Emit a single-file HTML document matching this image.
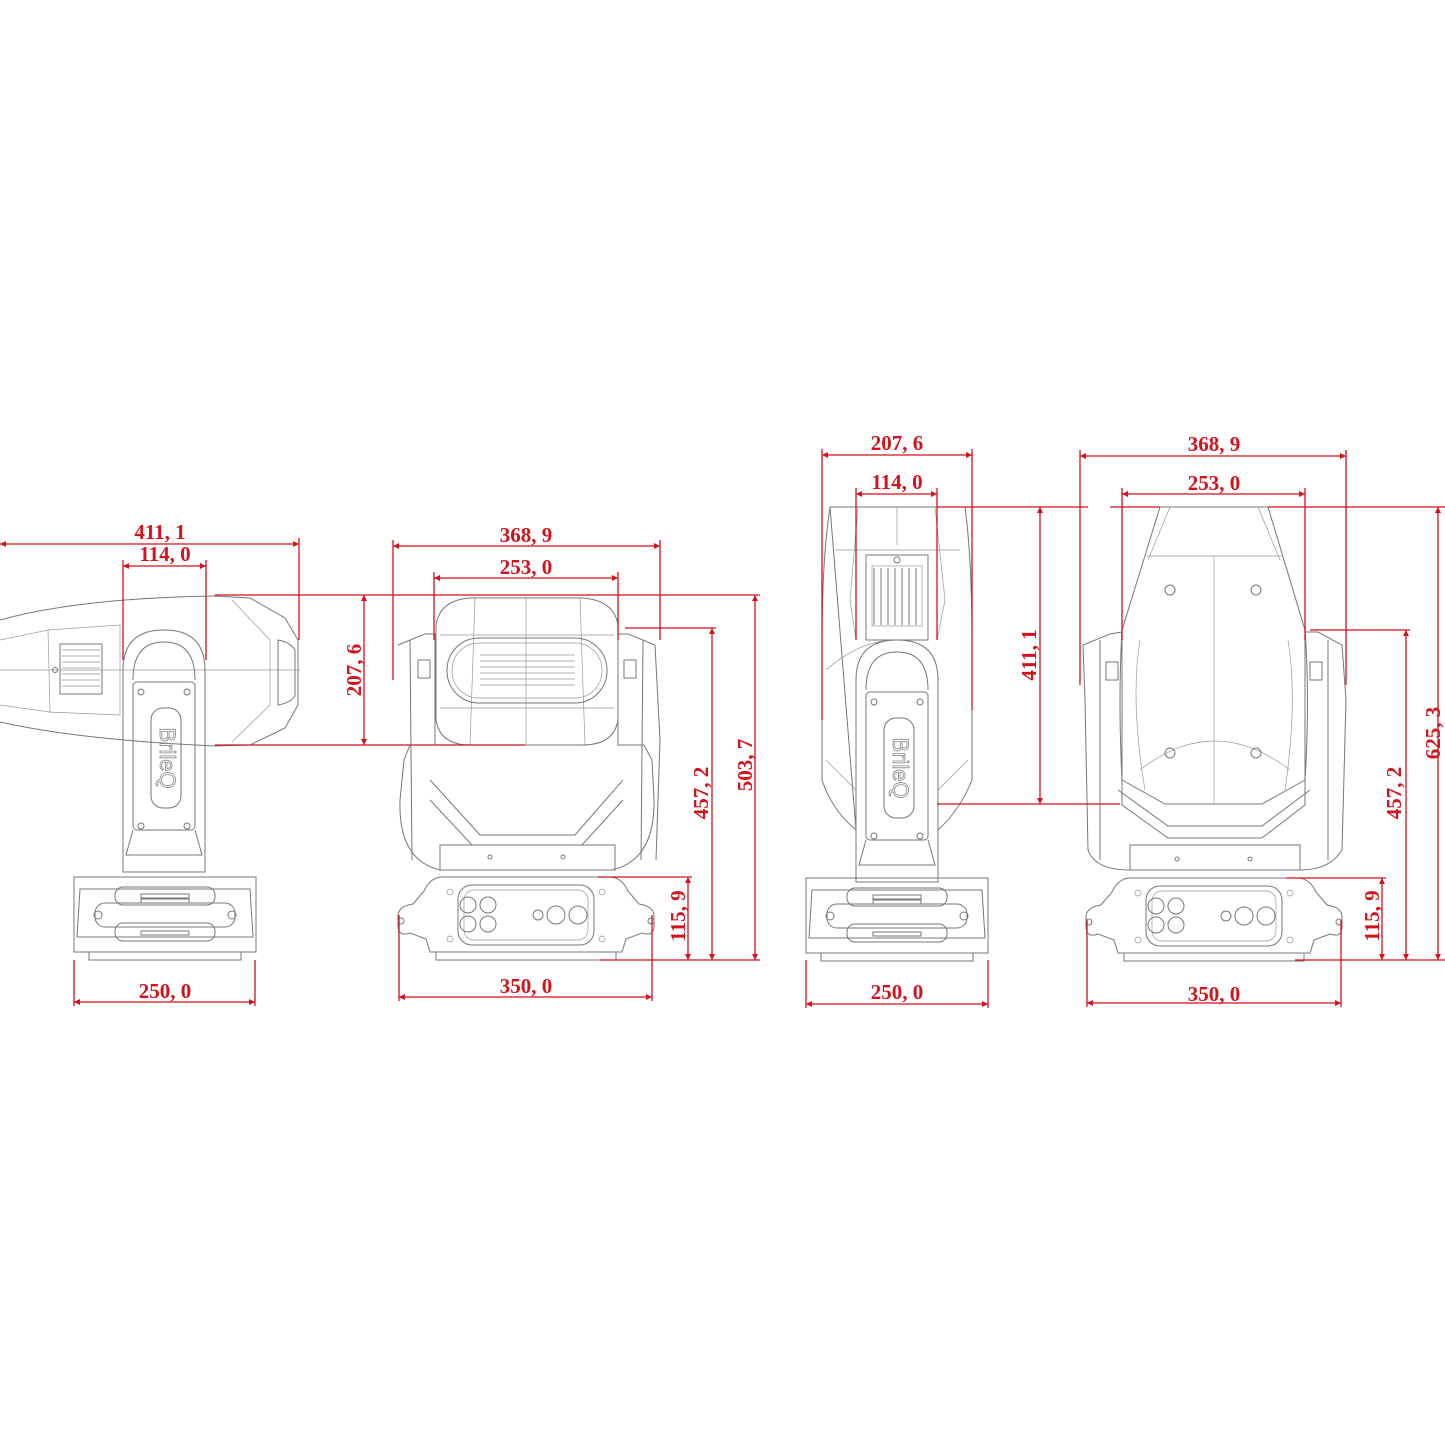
<!DOCTYPE html>
<html><head><meta charset="utf-8"><style>
html,body{margin:0;padding:0;background:#fff}
svg{display:block}
.g{fill:none;stroke:#777;stroke-width:1}
.gt{fill:none;stroke:#999;stroke-width:0.7}
.r{fill:none;stroke:#d4121c;stroke-width:1.3}
.t{font-family:"Liberation Serif",serif;font-weight:bold;font-size:21px;fill:#d4121c;text-anchor:middle}
</style></head><body>
<svg width="1445" height="1445" viewBox="0 0 1445 1445" xmlns="http://www.w3.org/2000/svg">
<defs>
<marker id="a" viewBox="0 0 10 10" refX="10" refY="5" markerWidth="10" markerHeight="6" orient="auto-start-reverse" markerUnits="userSpaceOnUse"><path d="M0,0 L10,5 L0,10z" fill="#d4121c"/></marker>
<!-- front base, centered at 0, top at 0 -->
<g id="bf">
<path class="g" d="M-85,0 L85,0 Q96,1 102,14 L113,27 Q127,29 128,38 L128,50 Q127,60 116,56 L100,62 L96,75 L-96,75 L-100,62 L-116,56 Q-127,60 -128,50 L-128,38 Q-127,29 -113,27 L-102,14 Q-96,1 -85,0Z"/>
<rect class="g" x="-68" y="8" width="136" height="60" rx="14"/>
<rect class="gt" x="-62" y="13" width="124" height="50" rx="10"/>
<path class="g" d="M-90,75 L-90,83 L90,83 L90,75"/>
<circle class="g" cx="-125" cy="44" r="3"/><circle class="g" cx="125" cy="44" r="3"/>
<circle class="g" cx="-58" cy="28" r="8"/><circle class="g" cx="-38" cy="28" r="8"/>
<circle class="g" cx="-58" cy="47" r="8"/><circle class="g" cx="-38" cy="47" r="8"/>
<circle class="g" cx="12" cy="38" r="5"/><circle class="g" cx="30" cy="38" r="9"/><circle class="g" cx="52" cy="38" r="9"/>
<circle class="gt" cx="-76" cy="15" r="3"/><circle class="gt" cx="76" cy="15" r="3"/><circle class="gt" cx="-76" cy="62" r="3"/><circle class="gt" cx="76" cy="62" r="3"/>
</g>
<!-- side base -->
<g id="bs">
<rect class="g" x="-91" y="0" width="182" height="75"/>
<path class="g" d="M-85,12 L85,12 L88,60 L-88,60Z"/>
<rect class="g" x="-50" y="10" width="100" height="18" rx="8"/>
<rect class="g" x="-50" y="46" width="100" height="18" rx="8"/>
<rect class="g" x="-70" y="26" width="140" height="24" rx="10"/>
<rect class="g" x="-24" y="17" width="48" height="4"/><rect class="g" x="-24" y="22" width="48" height="4"/><rect class="g" x="-24" y="54" width="48" height="4"/>
<circle class="g" cx="-67" cy="38" r="4"/><circle class="g" cx="67" cy="38" r="4"/>
<path class="g" d="M-76,75 L-76,83 L76,83 L76,75"/>
</g>
<!-- arm (side view), origin top-left -->
<g id="arm">
<path class="g" d="M0,242 L0,40 Q0,0 41,0 Q82,0 82,40 L82,242Z"/>
<path class="g" d="M10,50 Q10,12 41,12 Q72,12 72,50"/>
<rect class="g" x="10" y="52" width="62" height="148" rx="4"/>
<rect class="g" x="28" y="78" width="30" height="100" rx="12"/>
<text x="43" y="128" transform="rotate(90 43 128)" font-family="Liberation Sans,sans-serif" font-size="22" fill="none" stroke="#888" stroke-width="0.8" text-anchor="middle" dominant-baseline="middle">BrileQ</text>
<circle class="g" cx="18" cy="62" r="3"/><circle class="g" cx="64" cy="62" r="3"/><circle class="g" cx="18" cy="196" r="3"/><circle class="g" cx="64" cy="196" r="3"/>
<path class="g" d="M10,200 L3,225 L79,225 L72,200"/>
</g>
</defs>

<!-- ============ VIEW 1 ============ -->
<path class="g" d="M0,620 Q80,598 215,596 L250,598 L285,618 L298,640 L298,705 L285,728 L250,745 L215,746 Q80,740 0,722"/>
<path class="gt" d="M0,640 L48,630 L50,712 L0,705"/>
<path class="gt" d="M48,630 L120,625 L120,715 L48,712"/>
<rect class="g" x="60" y="644" width="42" height="50"/>
<path class="gt" d="M62,650 H100 M62,656 H100 M62,662 H100 M62,668 H100 M62,674 H100 M62,680 H100 M62,686 H100"/>
<path class="gt" d="M0,670 H300 M232,600 L270,640 L270,705 L232,742"/>
<path class="g" d="M278,640 Q290,642 295,650 L295,696 Q290,703 278,705 Z"/>
<circle class="g" cx="55" cy="670" r="2.5"/>
<use href="#arm" x="123" y="630"/>
<use href="#bs" x="165" y="877"/>

<!-- ============ VIEW 2 ============ -->
<path class="g" d="M398,645 L425,634 L435,634 L435,745 L410,745 L404,760 L400,800 Q398,860 440,870 L612,870 Q655,860 654,800 L652,760 L644,745 L618,745 L618,634 L628,634 L655,645 L660,740 L656,860"/>
<path class="g" d="M410,640 L412,860 M643,640 L641,860"/>
<path class="g" d="M430,780 L480,835 L575,835 L623,780 M430,800 L472,845 L582,845 L623,800"/>
<rect class="g" x="440" y="845" width="175" height="25"/>
<circle class="g" cx="490" cy="857" r="2"/><circle class="g" cx="563" cy="857" r="2"/>
<path class="g" d="M436,625 Q440,600 470,598 L582,598 Q614,600 618,625 L618,720 Q614,745 582,745 L470,745 Q440,745 436,720 Z"/>
<path class="gt" d="M440,635 H614 M440,708 H614 M475,598 L470,745 M580,598 L585,745 M526,598 V745"/>
<rect class="g" x="447" y="638" width="160" height="65" rx="32"/>
<rect class="gt" x="452" y="643" width="150" height="55" rx="27"/>
<path class="gt" d="M480,655 H575 M480,661 H575 M480,667 H575 M480,673 H575 M480,679 H575 M480,685 H575"/>
<rect class="g" x="418" y="660" width="12" height="18"/><rect class="g" x="624" y="660" width="12" height="18"/>
<use href="#bf" x="526" y="877"/>

<!-- ============ VIEW 3 ============ -->
<path class="g" d="M830,507 L965,507 Q972,560 972,640 L972,780 Q960,810 938,830 M856,830 Q832,810 822,780 L822,640 Q822,560 830,507 Z"/>
<path class="gt" d="M858,507 L850,600 L856,640 M937,640 L945,600 L935,507 M897,507 V545 M835,550 H960 M826,670 Q860,640 897,640 M826,760 L856,790 M968,760 L938,790"/>
<rect class="g" x="866" y="555" width="62" height="85"/>
<path class="g" d="M874,568 V625 M881,568 V625 M888,568 V625 M895,568 V625 M902,568 V625 M909,568 V625 M916,568 V625"/>
<rect class="gt" x="872" y="566" width="50" height="60"/>
<circle class="g" cx="897" cy="560" r="3"/>
<use href="#arm" x="856" y="640"/>
<use href="#bs" x="897" y="878"/>

<!-- ============ VIEW 4 ============ -->
<path class="g" d="M1083,645 L1110,634 L1122,632 L1122,805 L1168,838 L1262,838 L1305,805 L1305,632 L1318,632 L1342,645 L1346,700 L1342,850 Q1330,870 1300,870 L1130,870 Q1095,870 1088,850 L1085,700 Z"/>
<path class="g" d="M1100,640 L1100,860 M1328,640 L1328,860"/>
<path class="g" d="M1118,790 L1168,826 L1262,826 L1310,790"/>
<rect class="g" x="1130" y="845" width="170" height="25"/>
<circle class="g" cx="1177" cy="859" r="2"/><circle class="g" cx="1250" cy="859" r="2"/>
<path class="g" d="M1160,507 L1268,507 L1305,630 Q1310,700 1305,780 L1262,804 L1165,804 L1122,780 Q1118,700 1122,630 Z"/>
<path class="gt" d="M1170,507 L1148,560 M1258,507 L1280,560 M1146,556 H1282 M1214,556 V804 M1140,770 Q1214,712 1290,770 M1140,640 Q1130,700 1145,790 M1288,640 Q1298,700 1285,790"/>
<circle class="g" cx="1170" cy="590" r="5"/><circle class="g" cx="1256" cy="590" r="5"/>
<circle class="g" cx="1170" cy="753" r="5"/><circle class="g" cx="1256" cy="753" r="5"/>
<rect class="g" x="1106" y="662" width="12" height="18"/><rect class="g" x="1310" y="662" width="12" height="18"/>
<use href="#bf" x="1214" y="878"/>

<!-- ============ DIMENSIONS ============ -->
<g class="r">
<!-- view1 -->
<path d="M0,544 H299" marker-start="url(#a)" marker-end="url(#a)"/>
<path d="M299,538 V640"/>
<path d="M123,566 H206" marker-start="url(#a)" marker-end="url(#a)"/>
<path d="M123,560 V660 M206,560 V660"/>
<path d="M364,595 V745" marker-start="url(#a)" marker-end="url(#a)"/>
<path d="M215,595 H760 M215,745 H525"/>
<path d="M74,1002 H255" marker-start="url(#a)" marker-end="url(#a)"/>
<path d="M74,960 V1006 M255,960 V1006"/>
<!-- view2 -->
<path d="M393,546 H660" marker-start="url(#a)" marker-end="url(#a)"/>
<path d="M393,540 V680 M660,540 V640"/>
<path d="M434,578 H618" marker-start="url(#a)" marker-end="url(#a)"/>
<path d="M434,572 V640 M618,572 V640"/>
<path d="M712,628 V960" marker-start="url(#a)" marker-end="url(#a)"/>
<path d="M625,628 H716"/>
<path d="M755,595 V960" marker-start="url(#a)" marker-end="url(#a)"/>
<path d="M688,877 V960" marker-start="url(#a)" marker-end="url(#a)"/>
<path d="M598,877 H692 M600,960 H760"/>
<path d="M399,997 H652" marker-start="url(#a)" marker-end="url(#a)"/>
<path d="M399,915 V1001 M652,915 V1001"/>
<!-- view3 -->
<path d="M822,455 H972" marker-start="url(#a)" marker-end="url(#a)"/>
<path d="M822,449 V720 M972,449 V710"/>
<path d="M856,494 H937" marker-start="url(#a)" marker-end="url(#a)"/>
<path d="M856,488 V640 M937,488 V640"/>
<path d="M1040,507 V804" marker-start="url(#a)" marker-end="url(#a)"/>
<path d="M937,507 H1088 M1110,507 H1160 M1268,507 H1445 M937,804 H1120"/>
<path d="M806,1004 H988" marker-start="url(#a)" marker-end="url(#a)"/>
<path d="M806,960 V1008 M988,960 V1008"/>
<!-- view4 -->
<path d="M1080,456 H1346" marker-start="url(#a)" marker-end="url(#a)"/>
<path d="M1080,450 V685 M1346,450 V685"/>
<path d="M1122,494 H1305" marker-start="url(#a)" marker-end="url(#a)"/>
<path d="M1122,488 V640 M1305,488 V640"/>
<path d="M1406,630 V960" marker-start="url(#a)" marker-end="url(#a)"/>
<path d="M1310,630 H1410"/>
<path d="M1438,507 V960" marker-start="url(#a)" marker-end="url(#a)"/>
<path d="M1382,878 V960" marker-start="url(#a)" marker-end="url(#a)"/>
<path d="M1286,878 H1386 M1295,960 H1445"/>
<path d="M1087,1003 H1341" marker-start="url(#a)" marker-end="url(#a)"/>
<path d="M1087,920 V1007 M1341,920 V1007"/>
</g>
<g class="t">
<text x="160" y="539">411, 1</text>
<text x="165" y="561">114, 0</text>
<text x="0" y="0" transform="translate(361,670) rotate(-90)">207, 6</text>
<text x="165" y="998">250, 0</text>
<text x="526" y="542">368, 9</text>
<text x="526" y="574">253, 0</text>
<text x="0" y="0" transform="translate(708,793) rotate(-90)">457, 2</text>
<text x="0" y="0" transform="translate(752,765) rotate(-90)">503, 7</text>
<text x="0" y="0" transform="translate(685,916) rotate(-90)">115, 9</text>
<text x="526" y="993">350, 0</text>
<text x="897" y="450">207, 6</text>
<text x="897" y="489">114, 0</text>
<text x="0" y="0" transform="translate(1036,655) rotate(-90)">411, 1</text>
<text x="897" y="999">250, 0</text>
<text x="1214" y="451">368, 9</text>
<text x="1214" y="490">253, 0</text>
<text x="0" y="0" transform="translate(1401,793) rotate(-90)">457, 2</text>
<text x="0" y="0" transform="translate(1440,733) rotate(-90)">625, 3</text>
<text x="0" y="0" transform="translate(1379,916) rotate(-90)">115, 9</text>
<text x="1214" y="1001">350, 0</text>
</g>
</svg>
</body></html>
